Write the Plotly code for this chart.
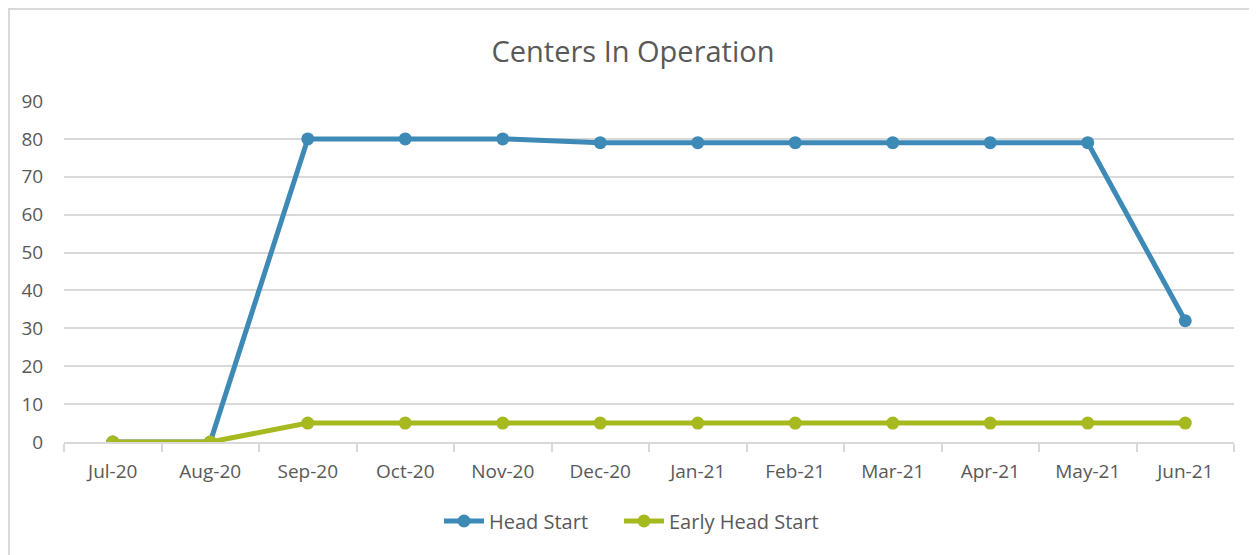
import plotly.graph_objects as go

months = ["Jul-20", "Aug-20", "Sep-20", "Oct-20", "Nov-20", "Dec-20",
          "Jan-21", "Feb-21", "Mar-21", "Apr-21", "May-21", "Jun-21"]
head_start = [0, 0, 80, 80, 80, 79, 79, 79, 79, 79, 79, 32]
early_head_start = [0, 0, 5, 5, 5, 5, 5, 5, 5, 5, 5, 5]

BLUE = "#3e8ab6"
GREEN = "#a6b91f"
GRID = "#d9d9d9"
TXT = "#595959"
FONT = "Open Sans"

# page body has an 8px margin; offset everything by 8px
OFF = 8
W, H = 1257 - OFF, 555 - OFF
PL, PT, PW, PH = 64 - OFF, 101 - OFF, 1170, 341

fig = go.Figure()
fig.add_trace(go.Scatter(x=months, y=head_start, name="Head Start", mode="lines+markers",
                         line=dict(color=BLUE, width=5), marker=dict(size=13, color=BLUE),
                         legend="legend"))
fig.add_trace(go.Scatter(x=months, y=early_head_start, name="Early Head Start", mode="lines+markers",
                         line=dict(color=GREEN, width=5), marker=dict(size=13, color=GREEN),
                         legend="legend2"))

leg_common = dict(orientation="h", xanchor="left", y=-(521 - 442) / PH, yanchor="middle",
                  font=dict(size=20, color=TXT), itemwidth=40, bgcolor="rgba(0,0,0,0)")

fig.update_layout(
    width=W, height=H,
    margin=dict(l=PL, r=W - PL - PW, t=PT, b=H - PT - PH, autoexpand=False),
    paper_bgcolor="white", plot_bgcolor="white",
    font=dict(family=FONT, color=TXT, size=18),
    title=dict(text="Centers In Operation", x=(633 - OFF) / W, xanchor="center",
               y=1 - (52 - OFF) / H, yanchor="middle",
               font=dict(size=29, color=TXT, family=FONT)),
    showlegend=True,
    legend=dict(x=(439 - 64) / PW, **leg_common),
    legend2=dict(x=(619 - 64) / PW, **leg_common),
    xaxis=dict(type="category", showgrid=False, showline=True, linecolor=GRID, linewidth=1.5,
               ticks="outside", tickson="boundaries", ticklen=8, tickcolor=GRID, tickwidth=1.5,
               tickfont=dict(size=19, color=TXT), ticklabelstandoff=11, zeroline=False,
               range=[-0.5, 11.5]),
    yaxis=dict(range=[0, 90], dtick=10, showgrid=True, gridcolor=GRID, gridwidth=1.5,
               zeroline=False, showline=False, ticks="outside", ticklen=16,
               tickcolor="rgba(0,0,0,0)", tickfont=dict(size=19, color=TXT)),
    shapes=[dict(type="rect", xref="paper", yref="paper",
                 x0=(1 - PL) / PW, x1=1.05, y0=-0.5, y1=(PT + PH - 1) / PH,
                 line=dict(color=GRID, width=2), fillcolor="rgba(0,0,0,0)", layer="below")],
)

fig.write_html("out.html")
